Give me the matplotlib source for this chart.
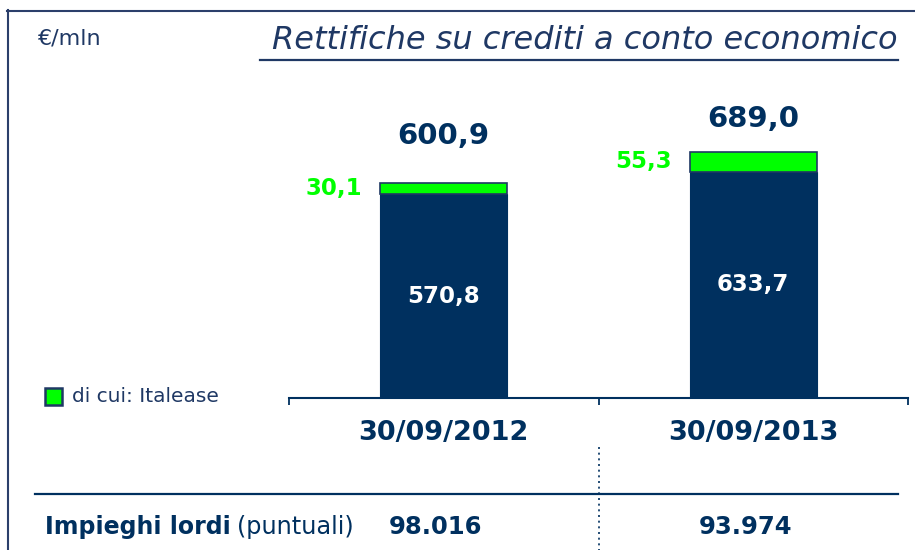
import matplotlib
matplotlib.use("Agg")
import matplotlib.pyplot as plt
from matplotlib.lines import Line2D
from matplotlib.patches import Rectangle
from matplotlib.transforms import blended_transform_factory

# ---------------- data ----------------
dates = ["30/09/2012", "30/09/2013"]
core_values = [570.8, 633.7]          # navy part
italease_values = [30.1, 55.3]        # green part ("di cui: Italease")
totals = [600.9, 689.0]
impieghi_lordi = ["98.016", "93.974"]
title = "Rettifiche su crediti a conto economico"
unit_label = "€/mln"
legend_label = "di cui: Italease"
table_label_bold = "Impieghi lordi"
table_label_reg = "(puntuali)"

# ---------------- style ----------------
NAVY = "#00305F"
TEXT_NAVY = "#1F3864"
GREEN = "#00FF00"
FRAME = "#2B3F6B"
W, H = 915, 550
total_offsets_px = [47, 33]


def fx(px):
    return px / W


def fy(py):
    return 1 - py / H


def fmt(v):
    return f"{v:.1f}".replace(".", ",")


plt.rcParams["font.family"] = ["DejaVu Sans"]
fig = plt.figure(figsize=(W / 100, H / 100), dpi=100)

ax = fig.add_axes([fx(289), fy(398), (908 - 289) / W, 357 / H])
ax.set_xlim(-0.5, 1.5)
ax.set_ylim(0, 1000)

x = list(range(len(dates)))
bw = 0.41
ax.bar(x, core_values, width=bw, color=NAVY, edgecolor=NAVY, linewidth=0.8, zorder=2)
ax.bar(x, italease_values, width=bw, bottom=core_values, color=GREEN,
       edgecolor=TEXT_NAVY, linewidth=1.2, zorder=2)

for s in ["top", "left", "right"]:
    ax.spines[s].set_visible(False)
ax.spines["bottom"].set_color(NAVY)
ax.spines["bottom"].set_linewidth(1.5)
ax.set_yticks([])
ax.set_xticks([-0.5, 0.5, 1.5])
ax.set_xticklabels([])
ax.tick_params(axis="x", which="major", direction="out", length=5,
               width=1.3, color=NAVY)
ax.set_xticks(x, minor=True)
ax.set_xticklabels(dates, minor=True, fontsize=19.5, fontweight="bold",
                   color=NAVY)
ax.tick_params(axis="x", which="minor", length=0, pad=16)

for i in x:
    # totals above
    ax.annotate(fmt(totals[i]), xy=(i, totals[i]), xytext=(0, total_offsets_px[i]),
                textcoords="offset pixels", ha="center", va="center",
                fontsize=21, fontweight="bold", color=NAVY)
    # inner navy values
    ax.annotate(fmt(core_values[i]), xy=(i, core_values[i] / 2),
                ha="center", va="center", fontsize=16.5, fontweight="bold",
                color="white")
    # green values left of bars
    ax.annotate(fmt(italease_values[i]),
                xy=(i - bw / 2, core_values[i] + italease_values[i] / 2),
                xytext=(-18, 0), textcoords="offset pixels",
                ha="right", va="center", fontsize=16.5, fontweight="bold",
                color=GREEN)

# ---------------- frame ----------------
fig.add_artist(Line2D([fx(7), fx(915)], [fy(10.5), fy(10.5)],
                      transform=fig.transFigure, color=FRAME, lw=1.5))
fig.add_artist(Line2D([fx(7.5), fx(7.5)], [fy(10), fy(550)],
                      transform=fig.transFigure, color=FRAME, lw=1.5))

# ---------------- title / unit ----------------
fig.text(fx(38), fy(38), unit_label, fontsize=16, color=TEXT_NAVY,
         ha="left", va="center")
fig.text(fx(898), fy(49), title, fontsize=23, style="italic",
         color=TEXT_NAVY, ha="right", va="baseline")
fig.add_artist(Line2D([fx(260), fx(898)], [fy(60), fy(60)],
                      transform=fig.transFigure, color=TEXT_NAVY, lw=1.6))

# ---------------- legend ----------------
fig.add_artist(Rectangle((fx(45), fy(405)), 17 / W, 17 / H,
                         transform=fig.transFigure, facecolor=GREEN,
                         edgecolor=TEXT_NAVY, linewidth=1.8))
fig.text(fx(72), fy(397), legend_label, fontsize=14.5, color=TEXT_NAVY,
         ha="left", va="center")

# ---------------- table ----------------
fig.add_artist(Line2D([fx(35), fx(898)], [fy(494), fy(494)],
                      transform=fig.transFigure, color=NAVY, lw=1.6))
btr = blended_transform_factory(ax.transData, fig.transFigure)
fig.add_artist(Line2D([0.5, 0.5], [fy(447), fy(550)], transform=btr,
                      color=NAVY, lw=1.2, linestyle=(0, (1.2, 2.2))))
fig.text(fx(45), fy(527), table_label_bold, fontsize=17, fontweight="bold",
         color=NAVY, ha="left", va="center")
fig.text(fx(237), fy(527), table_label_reg, fontsize=17.3, color=NAVY,
         ha="left", va="center")
for i in x:
    ax.annotate(impieghi_lordi[i], xy=(i, fy(527)), xycoords=btr,
                xytext=(-8, 0), textcoords="offset pixels",
                ha="center", va="center", fontsize=17.5, fontweight="bold",
                color=NAVY, annotation_clip=False)

fig.savefig("out.png", dpi=100)
